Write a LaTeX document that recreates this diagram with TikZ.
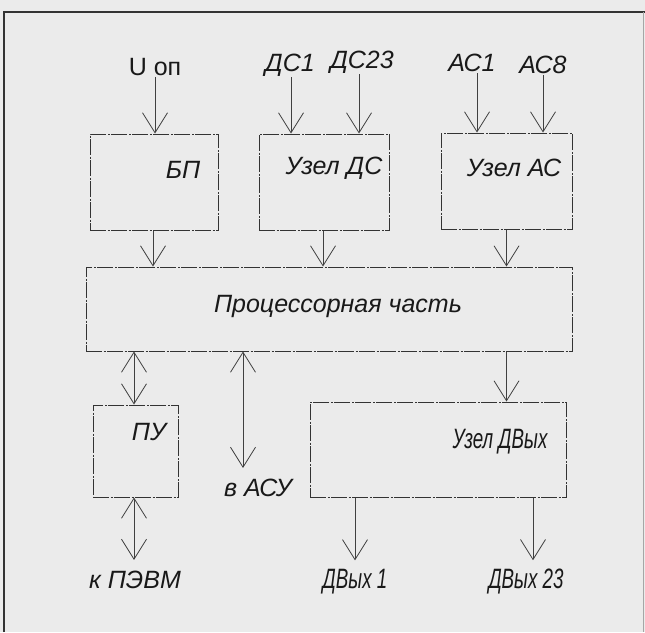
\documentclass[tikz,border=0pt]{standalone}
\usepackage{fontspec}
\setmainfont{Liberation Sans}
\newfontfamily\etroit[FakeStretch=0.67]{Liberation Sans}
\usetikzlibrary{arrows.meta}
\tikzset{
	pointe/.tip={Straight Barb[length=20pt,width=25pt]},
	bloc/.style={draw=black!80, line width=1pt, dash pattern=on 16pt off 1.5pt on 2pt off 1.5pt, inner sep=0pt},
	fl/.style={draw=black!75, line width=0.8pt, -pointe},
	dfl/.style={draw=black!75, line width=0.8pt, pointe-pointe},
	txt/.style={font=\fontsize{25}{28}\selectfont\itshape, inner sep=1pt, text=black!90},
	etr/.style={font=\fontsize{28}{30}\selectfont\etroit\itshape, inner sep=1pt, text=black!90}
}

\begin{document}
\begin{tikzpicture}[x=1pt, y=-1pt]
%Page
	\useasboundingbox (0,0) rectangle (645,632);
	\fill[black!8] (0,0) rectangle (645,632);
	\draw[line width=1.3pt, black!80] (4,632) -- (4,12) -- (645,12);
	\draw[line width=0.6pt, black!35] (643,12) -- (643,632);
%Blocks
	\node (bp) [bloc, minimum width=128pt, minimum height=96pt] at (154,182) {};
	\node (uzds) [bloc, minimum width=130pt, minimum height=96pt] at (324,182) {};
	\node (uzas) [bloc, minimum width=131pt, minimum height=96pt] at (506.5,181) {};
	\node (proc) [bloc, minimum width=486pt, minimum height=84pt] at (329,309) {};
	\node (pu) [bloc, minimum width=85pt, minimum height=92pt] at (135.5,451) {};
	\node (dvyh) [bloc, minimum width=256pt, minimum height=95pt] at (438,449.5) {};
%Texts in the blocks
	\node (tbp) [txt] at (183,170) {БП};
	\node (tuzds) [txt] at (334,168) {Узел ДС};
	\node (tuzas) [txt] at (514,168) {Узел АС};
	\node (tproc) [txt] at (338,306) {Процессорная часть};
	\node (tpu) [txt] at (149,432) {ПУ};
	\node (tdvyh) [etr] at (500,442) {Узел ДВых};
%Inputs
	\node (uop) [txt, font=\fontsize{25}{28}\selectfont] at (155,67) {U оп};
	\node (ds1) [txt] at (290,65) {ДС1};
	\node (ds23) [txt] at (362,62) {ДС23};
	\node (as1) [txt] at (472,63) {АС1};
	\node (as8) [txt] at (543,65) {АС8};
	\draw[fl] (uop) -- (uop |- bp.north);
	\draw[fl] ([xshift=1pt]ds1.south) -- ([xshift=1pt]ds1.south |- uzds.north);
	\draw[fl] ([xshift=-3pt]ds23.south) -- ([xshift=-3pt]ds23.south |- uzds.north);
	\draw[fl] ([xshift=5pt]as1.south) -- ([xshift=5pt]as1.south |- uzas.north);
	\draw[fl] (as8) -- (as8 |- uzas.north);
%Into the processor
	\draw[fl] ([xshift=-1pt]bp.south) -- ([xshift=-1pt]bp.south |- proc.north);
	\draw[fl] ([xshift=-1pt]uzds.south) -- ([xshift=-1pt]uzds.south |- proc.north);
	\draw[fl] (uzas.south) -- (uzas.south |- proc.north);
%Outputs
	\node (vasu) [txt] at (258,488) {в АСУ};
	\node (kpevm) [txt] at (135,580) {к ПЭВМ};
	\node (dv1) [etr] at (355,582) {ДВых 1};
	\node (dv23) [etr] at (526,582) {ДВых 23};
	\draw[dfl] ([xshift=-1.5pt]pu.north |- proc.south) -- ([xshift=-1.5pt]pu.north);
	\draw[dfl] ([xshift=-15pt]vasu.north |- proc.south) -- ([xshift=-15pt,yshift=10pt]vasu.north);
	\draw[dfl] ([xshift=-1.5pt]pu.south) -- ([xshift=-1.5pt,yshift=10pt]pu.south |- kpevm.north);
	\draw[fl] (uzas.south |- proc.south) -- (uzas.south |- dvyh.north);
	\draw[fl] (dv1 |- dvyh.south) -- ([yshift=8pt]dv1.north);
	\draw[fl] ([xshift=7pt]dv23 |- dvyh.south) -- ([xshift=7pt,yshift=8pt]dv23.north);
\end{tikzpicture}
\end{document}
